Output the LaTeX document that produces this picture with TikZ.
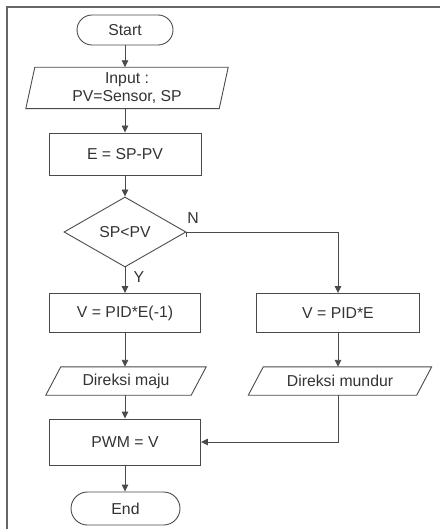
\documentclass[tikz,border=0pt]{standalone}
\usepackage{fontspec}
\setmainfont{Liberation Sans}
\usetikzlibrary{shapes.geometric,arrows.meta}
\definecolor{linec}{HTML}{4A4A4A}
\definecolor{textc}{HTML}{333333}
\newcommand\ioshape[2]{\draw[ln] ([xshift=#2]#1.north west) -- ([xshift=#2]#1.north east) -- ([xshift=-#2]#1.south east) -- ([xshift=-#2]#1.south west) -- cycle;}
\begin{document}
\begin{tikzpicture}[x=1pt,y=-1pt,
  every node/.style={font=\fontsize{15.8}{17.5}\selectfont, text=textc},
  ln/.style={draw=linec, line width=0.9pt},
  proc/.style={ln, rectangle, inner sep=0pt, align=center},
  term/.style={ln, rectangle, rounded corners=15pt, inner sep=0pt},
  iobox/.style={rectangle, inner sep=0pt, align=center},
  decis/.style={ln, diamond, inner sep=0pt},
  arr/.style={ln, -{Triangle[length=7pt,width=6.5pt]}},
  lbl/.style={inner sep=0pt}]
\useasboundingbox (0,0) rectangle (440,529);
% frame
\coordinate (fa) at (7,529);
\coordinate (fb) at (7,7);
\coordinate (fc) at (440,7);
\draw[draw=gray!80!black, line width=1.6pt] (fa) -- (fb) -- (fc);

\node[term, minimum width=96pt, minimum height=30pt] (start) at (125,30) {Start};
\node[iobox, minimum width=193pt, minimum height=41pt] (in) at (127,88) {Input :\\PV=Sensor, SP};
\ioshape{in}{4.5pt}
\node[proc, minimum width=152pt, minimum height=42pt] (e) at (125,154) {E = SP-PV};
\node[decis, minimum width=122pt, minimum height=70pt] (dia) at (125,232) {SP<PV};
\node[proc, minimum width=151pt, minimum height=39pt] (v1) at (125,313) {V = PID*E(-1)};
\node[proc, minimum width=163pt, minimum height=39pt] (v2) at (338,313) {V = PID*E};
\node[iobox, minimum width=145pt, minimum height=28pt] (d1) at (126,381) {Direksi maju};
\ioshape{d1}{7.5pt}
\node[iobox, minimum width=168pt, minimum height=28pt] (d2) at (340,381) {Direksi mundur};
\ioshape{d2}{7.5pt}
\node[proc, minimum width=151pt, minimum height=46pt] (pwm) at (125,442) {PWM = V};
\node[term, minimum width=109pt, minimum height=33pt, rounded corners=16.5pt] (end) at (125.5,508.5) {End};

\node[lbl] (nl) at (193,218) {N};
\node[lbl] (yl) at (139,277) {Y};

\draw[arr] (start.south) -- (start.south |- in.north);
\draw[arr] (start.south |- in.south) -- (e.north);
\draw[arr] (e.south) -- (dia.north);
\draw[arr] (dia.south) -- (v1.north);
\draw[arr] (dia.east) -- (v2.north |- dia.east) -- (v2.north);
\draw[ln] (dia.east) -- ++(0,5);
\draw[arr] (v1.south) -- (v1.south |- d1.north);
\draw[arr] (v1.south |- d1.south) -- (pwm.north);
\draw[arr] (v2.south) -- (v2.south |- d2.north);
\draw[arr] (v2.south |- d2.south) -- (v2.south |- pwm.east) -- (pwm.east);
\draw[arr] (pwm.south) -- (pwm.south |- end.north);
\end{tikzpicture}
\end{document}
